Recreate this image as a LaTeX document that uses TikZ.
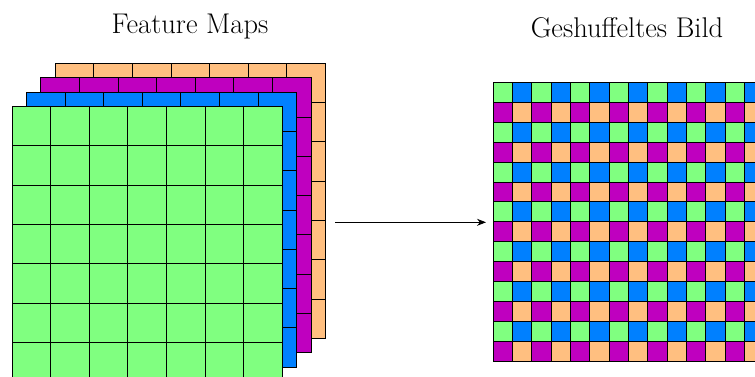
\documentclass[tikz,border=0pt]{standalone}
\usetikzlibrary{arrows.meta}
\definecolor{fmgreen}{HTML}{80FF80}
\definecolor{fmblue}{HTML}{0080FF}
\definecolor{fmpurple}{HTML}{BF00BF}
\definecolor{fmorange}{HTML}{FFBF80}
\begin{document}
\begin{tikzpicture}[x=1pt,y=-1pt,
  gridline/.style={draw=black,line width=1pt},
  cellbox/.style={draw=black,line width=1pt},
  titletext/.style={anchor=base,font=\fontsize{28.5}{32}\selectfont,inner sep=0pt},
  flowarrow/.style={-{Stealth[length=9pt,width=7pt]},line width=0.9pt}]
\useasboundingbox (0,0) rectangle (755,376);
\clip (0,0) rectangle (755,376);
% feature maps stack
\foreach \k/\c in {3/fmorange,2/fmpurple,1/fmblue,0/fmgreen}{
  \pgfmathsetmacro\ox{12+14.4*\k}
  \pgfmathsetmacro\oy{106.5-14.4*\k}
  \fill[\c] (\ox,\oy) rectangle ++(270.2,275.1);
  \foreach \i in {1,...,6}{
    \draw[gridline] ({\ox+\i*38.6},\oy) -- ++(0,275.1);
    \draw[gridline] (\ox,{\oy+\i*39.3}) -- ++(270.2,0);
  }
  \draw[gridline] (\ox,\oy) rectangle ++(270.2,275.1);
}
% shuffled image
\foreach \r in {0,2,...,12}{
  \foreach \cc in {0,2,...,12}{
    \draw[cellbox,fill=fmgreen] ({493.3+\cc*19.33},{82.7+\r*19.88}) rectangle ++(19.33,19.88);
    \draw[cellbox,fill=fmblue] ({493.3+(\cc+1)*19.33},{82.7+\r*19.88}) rectangle ++(19.33,19.88);
    \draw[cellbox,fill=fmpurple] ({493.3+\cc*19.33},{82.7+(\r+1)*19.88}) rectangle ++(19.33,19.88);
    \draw[cellbox,fill=fmorange] ({493.3+(\cc+1)*19.33},{82.7+(\r+1)*19.88}) rectangle ++(19.33,19.88);
  }
}
% titles
\node[titletext] (fmtitle) at (190,33.3) {Feature Maps};
\node[titletext] (imgtitle) at (627,37.3) {Geshuffeltes Bild};
% arrow
\coordinate (fmright) at (335,222.3);
\coordinate (imgleft) at (486,222.3);
\draw[flowarrow] (fmright) -- (imgleft);
\end{tikzpicture}
\end{document}
